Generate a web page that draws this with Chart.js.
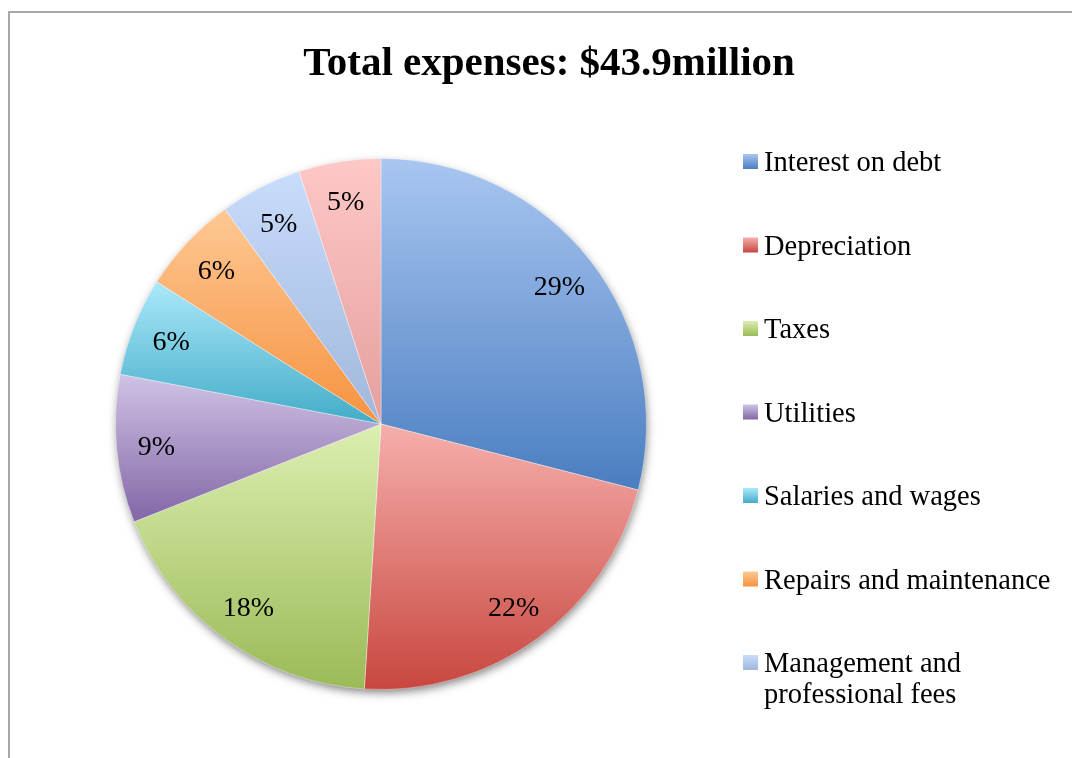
<!DOCTYPE html>
<html>
<head>
<meta charset="utf-8">
<script src="https://cdn.jsdelivr.net/npm/chart.js@4.4.0/dist/chart.umd.min.js"></script>
<style>
  html, body { margin: 0; padding: 0; background: #fff; overflow: hidden; width: 1072px; height: 758px; }
  #frame { position: absolute; left: 8px; top: 11px; width: 1200px; height: 900px;
           border-left: 2px solid #a9a9a9; border-top: 2px solid #a9a9a9; box-sizing: border-box; }
  #wrap { position: absolute; left: 0; top: 0; width: 1072px; height: 758px; }
</style>
</head>
<body>
<div id="frame"></div>
<div id="wrap"><canvas id="c" width="1072" height="758"></canvas></div>
<script>
// Expense breakdown (share of total, %)
const titleText = 'Total expenses: $43.9million';
const categories = [
  'Interest on debt',
  'Depreciation',
  'Taxes',
  'Utilities',
  'Salaries and wages',
  'Repairs and maintenance',
  'Management and professional fees',
  'Other'
];
const shares = [29, 22, 18, 9, 6, 6, 5, 5];

// Each slice is shaded with a vertical gradient, light at its top edge, deeper at the bottom
const lightColors = ['#a9c6f1', '#f6afac', '#dbefb1', '#d0c3e5', '#abe8fa', '#fec894', '#c8dcfb', '#fdc8c7'];
const deepColors  = ['#4a7ec0', '#c8473f', '#9bba57', '#8266a6', '#42acc7', '#f69240', '#a0b7db', '#e49f9d'];

const FONT = '"Liberation Serif", "Times New Roman", serif';

function sliceGradient(ctx, top, bottom, i) {
  const g = ctx.createLinearGradient(0, top, 0, bottom);
  g.addColorStop(0, lightColors[i]);
  g.addColorStop(1, deepColors[i]);
  return g;
}

function angleInRange(a, start, end) {
  const twoPi = Math.PI * 2;
  while (a < start) a += twoPi;
  return a <= end;
}

// Soft drop shadow under the pie and per-slice gradient fills
const pieShading = {
  id: 'pieShading',
  beforeDatasetsDraw(chart) {
    const meta = chart.getDatasetMeta(0);
    if (!meta.data.length) return;
    const ctx = chart.ctx;
    const first = meta.data[0];
    ctx.save();
    ctx.shadowColor = 'rgba(0,0,0,0.5)';
    ctx.shadowBlur = 10;
    ctx.shadowOffsetX = 1;
    ctx.shadowOffsetY = 4;
    ctx.beginPath();
    ctx.arc(first.x, first.y, first.outerRadius - 1, 0, Math.PI * 2);
    ctx.fillStyle = '#ffffff';
    ctx.fill();
    ctx.restore();

    meta.data.forEach((arc, i) => {
      const { x, y, startAngle, endAngle, outerRadius } = arc;
      let top = Math.min(y, y + outerRadius * Math.sin(startAngle), y + outerRadius * Math.sin(endAngle));
      let bottom = Math.max(y, y + outerRadius * Math.sin(startAngle), y + outerRadius * Math.sin(endAngle));
      if (angleInRange(-Math.PI / 2, startAngle, endAngle)) top = y - outerRadius;
      if (angleInRange(Math.PI / 2, startAngle, endAngle)) bottom = y + outerRadius;
      arc.options = Object.assign({}, arc.options, { backgroundColor: sliceGradient(ctx, top, bottom, i) });
    });
  }
};

// Percentage labels inside each slice
const sliceLabels = {
  id: 'sliceLabels',
  afterDatasetsDraw(chart) {
    const meta = chart.getDatasetMeta(0);
    const ctx = chart.ctx;
    ctx.save();
    ctx.font = '28px ' + FONT;
    ctx.fillStyle = '#000';
    ctx.textAlign = 'center';
    ctx.textBaseline = 'middle';
    meta.data.forEach((arc, i) => {
      const mid = (arc.startAngle + arc.endAngle) / 2;
      const r = arc.outerRadius * 0.85;
      ctx.fillText(shares[i] + '%', arc.x + r * Math.cos(mid), arc.y + r * Math.sin(mid) + 2);
    });
    ctx.restore();
  }
};

// Legend column on the right, reserved as a layout box
const LEGEND_WIDTH = 336;
function wrapText(ctx, text, maxWidth) {
  const words = text.split(' ');
  const lines = [];
  let line = '';
  words.forEach(w => {
    const test = line ? line + ' ' + w : w;
    if (line && ctx.measureText(test).width > maxWidth) { lines.push(line); line = w; }
    else line = test;
  });
  if (line) lines.push(line);
  return lines;
}

const sideLegend = {
  id: 'sideLegend',
  beforeInit(chart) {
    const box = {
      position: 'right', weight: 0, fullSize: false, options: {},
      width: 0, height: 0, left: 0, top: 0, right: 0, bottom: 0,
      isHorizontal() { return false; },
      update(maxWidth, maxHeight) { this.width = LEGEND_WIDTH; this.height = maxHeight; },
      draw() {
        const ctx = chart.ctx;
        const swatchX = this.left + 96;
        const textX = this.left + 117;
        const lineH = 31;
        const gap = 52.5;
        let baseline = 171;
        ctx.save();
        ctx.font = '28.5px ' + FONT;
        ctx.textAlign = 'left';
        ctx.textBaseline = 'alphabetic';
        categories.forEach((label, i) => {
          const sTop = baseline - 17;
          ctx.fillStyle = sliceGradient(ctx, sTop, sTop + 15, i);
          ctx.fillRect(swatchX, sTop, 15, 15);
          ctx.fillStyle = '#000';
          const lines = wrapText(ctx, label, 300);
          lines.forEach((ln, k) => ctx.fillText(ln, textX, baseline + k * lineH));
          baseline += lines.length * lineH + gap;
        });
        ctx.restore();
      }
    };
    Chart.layouts.addBox(chart, box);
  }
};

new Chart(document.getElementById('c'), {
  type: 'pie',
  data: {
    labels: categories,
    datasets: [{
      data: shares,
      backgroundColor: deepColors,
      borderColor: 'rgba(255,255,255,0.35)',
      borderWidth: 1,
      hoverOffset: 0
    }]
  },
  options: {
    responsive: false,
    animation: false,
    events: [],
    layout: { padding: { top: 0, left: 115, right: 89, bottom: 68 } },
    plugins: {
      legend: { display: false },
      tooltip: { enabled: false },
      title: {
        display: true,
        text: titleText,
        color: '#000',
        font: { family: FONT, size: 41, weight: 'bold', lineHeight: 1.2 },
        padding: { top: 40, bottom: 68.8 }
      }
    }
  },
  plugins: [sideLegend, pieShading, sliceLabels]
});
</script>
</body>
</html>
